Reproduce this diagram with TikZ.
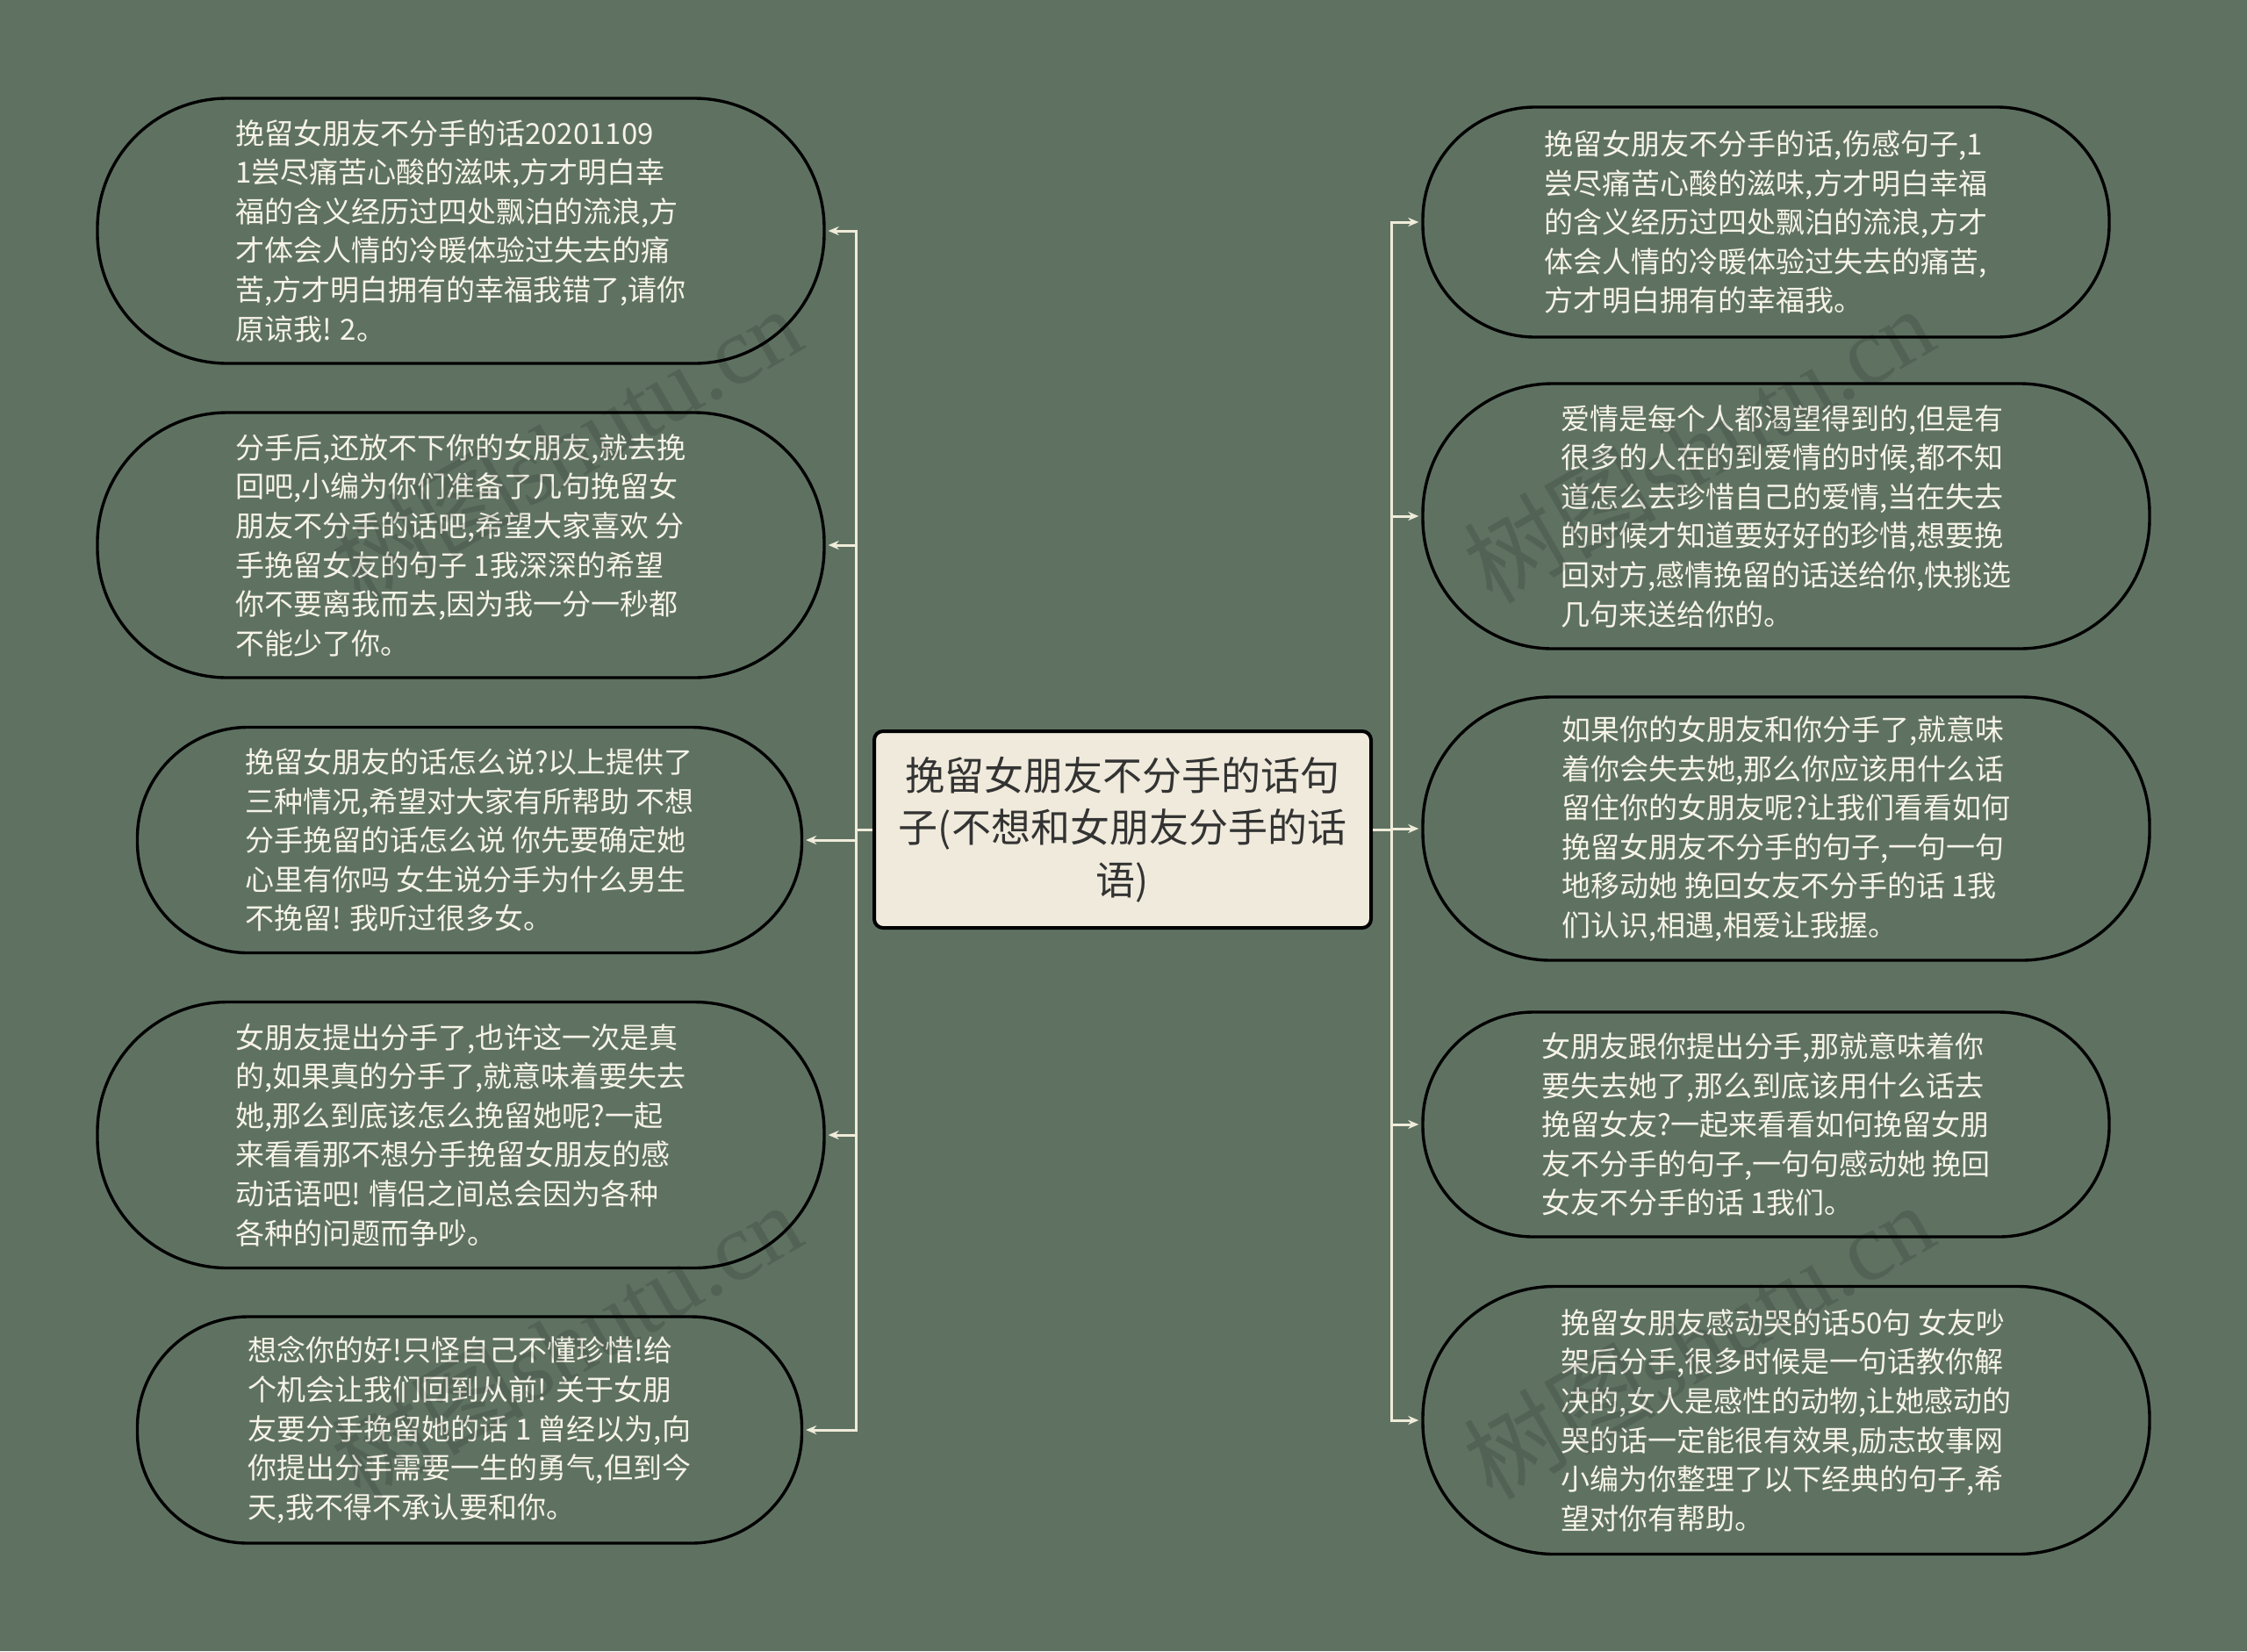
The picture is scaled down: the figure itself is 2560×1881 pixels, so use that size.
\documentclass[tikz,border=0pt]{standalone}
\usepackage{fontspec}
\setmainfont{Noto Sans CJK SC}
\newfontfamily\wmfont{Liberation Serif}
\newfontfamily\cjkfont{Noto Sans CJK SC}
\usetikzlibrary{arrows.meta}
\definecolor{bgc}{HTML}{5F7262}
\definecolor{linec}{HTML}{F0ECDA}
\definecolor{txtc}{HTML}{F6F3E8}
\definecolor{rootfill}{HTML}{EFEADB}
\definecolor{roottxt}{HTML}{333333}
\begin{document}
\begin{tikzpicture}[x=0.5pt,y=-0.5pt,
  leaf/.style={draw=black, line width=1.7pt, fill=bgc, text=txtc, align=left,
    inner sep=0pt, font=\fontsize{16.5pt}{22.3pt}\selectfont},
  rootbox/.style={draw=black, line width=2pt, fill=rootfill, text=roottxt,
    rounded corners=5pt, align=center, minimum width=283pt, minimum height=112pt,
    inner sep=0pt, font=\fontsize{22.5pt}{29.8pt}\selectfont},
  conn/.style={draw=linec, line width=1.5pt},
  connarrow/.style={draw=linec, line width=1.5pt, -{Stealth[length=6pt,width=5pt]}},
  wm/.style={text=black, opacity=0.13, rotate=30, inner sep=0pt,
    font=\fontsize{55pt}{60pt}\selectfont}
]
\useasboundingbox (0,0) rectangle (2560,1881);
\fill[bgc] (0,0) rectangle (2560,1881);

% root
\node[rootbox] (root) at (1279,945) {挽留女朋友不分手的话句\\子(不想和女朋友分手的话\\语)};

% left nodes
\node[leaf, minimum width=414pt, minimum height=151pt, rounded corners=74pt] (L1) at (525,263)
 {挽留女朋友不分手的话20201109\\1尝尽痛苦心酸的滋味,方才明白幸\\福的含义经历过四处飘泊的流浪,方\\才体会人情的冷暖体验过失去的痛\\苦,方才明白拥有的幸福我错了,请你\\原谅我! 2。};
\node[leaf, minimum width=414pt, minimum height=151pt, rounded corners=74pt] (L2) at (525,621)
 {分手后,还放不下你的女朋友,就去挽\\回吧,小编为你们准备了几句挽留女\\朋友不分手的话吧,希望大家喜欢 分\\手挽留女友的句子 1我深深的希望\\你不要离我而去,因为我一分一秒都\\不能少了你。};
\node[leaf, minimum width=378.5pt, minimum height=128.5pt, rounded corners=63pt] (L3) at (535,957)
 {挽留女朋友的话怎么说?以上提供了\\三种情况,希望对大家有所帮助 不想\\分手挽留的话怎么说 你先要确定她\\心里有你吗 女生说分手为什么男生\\不挽留! 我听过很多女。};
\node[leaf, minimum width=414pt, minimum height=151.5pt, rounded corners=74pt] (L4) at (525,1293)
 {女朋友提出分手了,也许这一次是真\\的,如果真的分手了,就意味着要失去\\她,那么到底该怎么挽留她呢?一起\\来看看那不想分手挽留女朋友的感\\动话语吧! 情侣之间总会因为各种\\各种的问题而争吵。};
\node[leaf, minimum width=378.5pt, minimum height=129pt, rounded corners=63pt] (L5) at (535,1629)
 {想念你的好!只怪自己不懂珍惜!给\\个机会让我们回到从前! 关于女朋\\友要分手挽留她的话 1 曾经以为,向\\你提出分手需要一生的勇气,但到今\\天,我不得不承认要和你。};

% right nodes
\node[leaf, minimum width=391pt, minimum height=131pt, rounded corners=64pt] (R1) at (2012,253)
 {挽留女朋友不分手的话,伤感句子,1\\尝尽痛苦心酸的滋味,方才明白幸福\\的含义经历过四处飘泊的流浪,方才\\体会人情的冷暖体验过失去的痛苦,\\方才明白拥有的幸福我。};
\node[leaf, minimum width=414pt, minimum height=151pt, rounded corners=74pt] (R2) at (2035,588)
 {爱情是每个人都渴望得到的,但是有\\很多的人在的到爱情的时候,都不知\\道怎么去珍惜自己的爱情,当在失去\\的时候才知道要好好的珍惜,想要挽\\回对方,感情挽留的话送给你,快挑选\\几句来送给你的。};
\node[leaf, minimum width=414pt, minimum height=150pt, rounded corners=73pt] (R3) at (2035,944)
 {如果你的女朋友和你分手了,就意味\\着你会失去她,那么你应该用什么话\\留住你的女朋友呢?让我们看看如何\\挽留女朋友不分手的句子,一句一句\\地移动她 挽回女友不分手的话 1我\\们认识,相遇,相爱让我握。};
\node[leaf, minimum width=391pt, minimum height=128pt, rounded corners=63pt] (R4) at (2012,1281)
 {女朋友跟你提出分手,那就意味着你\\要失去她了,那么到底该用什么话去\\挽留女友?一起来看看如何挽留女朋\\友不分手的句子,一句句感动她 挽回\\女友不分手的话 1我们。};
\node[leaf, minimum width=414pt, minimum height=152.5pt, rounded corners=75pt] (R5) at (2035,1618)
 {挽留女朋友感动哭的话50句 女友吵\\架后分手,很多时候是一句话教你解\\决的,女人是感性的动物,让她感动的\\哭的话一定能很有效果,励志故事网\\小编为你整理了以下经典的句子,希\\望对你有帮助。};

% trunk points
\coordinate (lt) at (975,945);
\coordinate (rt) at (1585,945);
\draw[conn] (root.west) -- (lt);
\draw[conn] (root.east) -- (rt);
\foreach \n in {L1,L2,L3,L4,L5}
  \draw[connarrow] (lt) |- ([xshift=1.5pt]\n.east);
\foreach \n in {R1,R2,R3,R4,R5}
  \draw[connarrow] (rt) |- ([xshift=-1.5pt]\n.west);

% watermarks
\node[wm] (w1) at (645,506) {{\cjkfont 树图}{\wmfont shutu.cn}};
\node[wm] (w2) at (1935,506) {{\cjkfont 树图}{\wmfont shutu.cn}};
\node[wm] (w3) at (645,1527) {{\cjkfont 树图}{\wmfont shutu.cn}};
\node[wm] (w4) at (1935,1527) {{\cjkfont 树图}{\wmfont shutu.cn}};
\end{tikzpicture}
\end{document}
